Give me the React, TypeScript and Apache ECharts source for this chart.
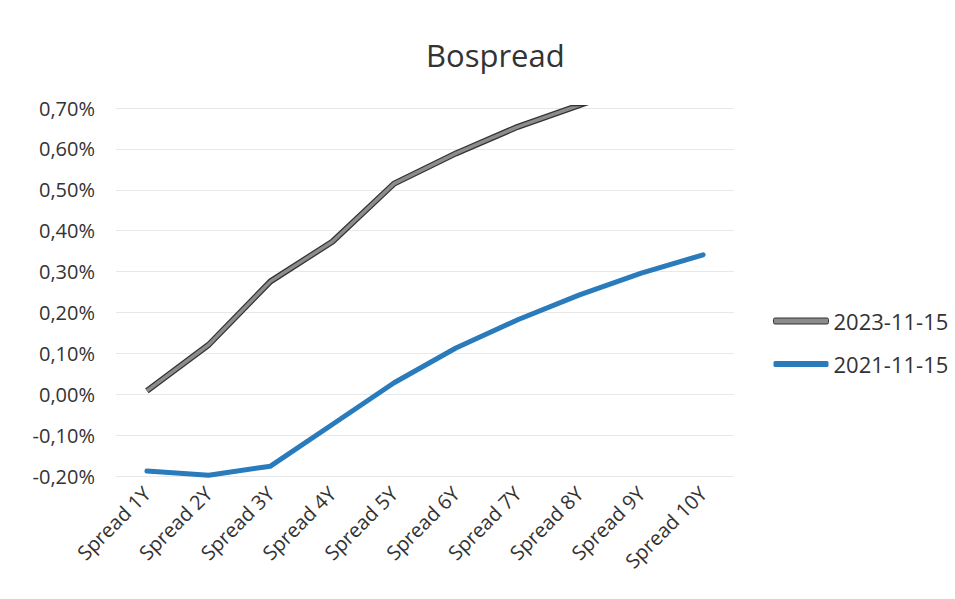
import React, { useEffect, useRef } from "react";
import * as echarts from "echarts";

const categories = [
  "Spread 1Y", "Spread 2Y", "Spread 3Y", "Spread 4Y", "Spread 5Y",
  "Spread 6Y", "Spread 7Y", "Spread 8Y", "Spread 9Y", "Spread 10Y",
];
const series2023 = [0.008, 0.121, 0.276, 0.373, 0.515, 0.589, 0.654, 0.707, 0.76, 0.8];
const series2021 = [-0.188, -0.198, -0.176, -0.074, 0.028, 0.113, 0.182, 0.243, 0.296, 0.341];
const seriesNames = ["2023-11-15", "2021-11-15"];
const yMin = -0.2;
const yMax = 0.7;
const yStep = 0.1;

const FONT = "'Open Sans', 'Noto Sans', sans-serif";
const GRAY = "#8c8c8c";
const DARK = "#333333";
const BLUE = "#2a7bbb";

export default function App() {
  const ref = useRef<HTMLDivElement>(null);
  useEffect(() => {
    if (!ref.current) return;
    const chart = echarts.init(ref.current, undefined, { renderer: "svg" });
    chart.setOption({
      animation: false,
      backgroundColor: "#ffffff",
      textStyle: { fontFamily: FONT },
      title: {
        text: "Bospread",
        left: 421,
        top: 34,
        textStyle: { fontFamily: FONT, fontSize: 31, fontWeight: "normal", color: "#333333" },
      },
      legend: {
        orient: "vertical",
        left: 768,
        top: 305,
        itemWidth: 55,
        itemHeight: 6,
        itemGap: 21,
        data: [
          {
            name: seriesNames[0],
            icon: "roundRect",
            itemStyle: { color: GRAY, borderColor: DARK, borderWidth: 1 },
          },
          {
            name: seriesNames[1],
            icon: "roundRect",
            itemStyle: { color: BLUE, borderWidth: 0 },
          },
        ],
        textStyle: { fontFamily: FONT, fontSize: 22, color: "#333333" },
      },
      grid: { left: 116, right: 221, top: 108, bottom: 123, containLabel: false },
      xAxis: {
        type: "category",
        data: categories,
        boundaryGap: true,
        axisLine: { show: false },
        axisTick: { show: false },
        axisLabel: {
          rotate: 45,
          margin: 14,
          interval: 0,
          fontFamily: FONT,
          fontSize: 20,
          color: "#333333",
        },
      },
      yAxis: {
        type: "value",
        min: yMin,
        max: yMax,
        interval: yStep,
        axisLine: { show: false },
        axisTick: { show: false },
        splitLine: { lineStyle: { color: "#e8e8e8", width: 1 } },
        axisLabel: {
          margin: 21,
          fontFamily: FONT,
          fontSize: 20,
          color: "#333333",
          formatter: (v: number) => v.toFixed(2).replace(".", ",") + "%",
        },
      },
      series: [
        {
          name: seriesNames[0],
          type: "line",
          data: series2023,
          symbol: "none",
          z: 4,
          lineStyle: { color: GRAY, width: 3.5 },
          itemStyle: { color: GRAY },
        },
        {
          name: seriesNames[0],
          type: "line",
          data: series2023,
          symbol: "none",
          z: 3,
          lineStyle: { color: DARK, width: 6 },
          itemStyle: { color: DARK },
        },
        {
          name: seriesNames[1],
          type: "line",
          data: series2021,
          symbol: "none",
          z: 3,
          lineStyle: { color: BLUE, width: 5, cap: "round", join: "round" },
          itemStyle: { color: BLUE },
        },
      ],
    });
    return () => chart.dispose();
  }, []);
  return (
    <div
      ref={ref}
      style={{ position: "fixed", left: 0, top: 0, width: 955, height: 599, background: "#fff" }}
    />
  );
}
